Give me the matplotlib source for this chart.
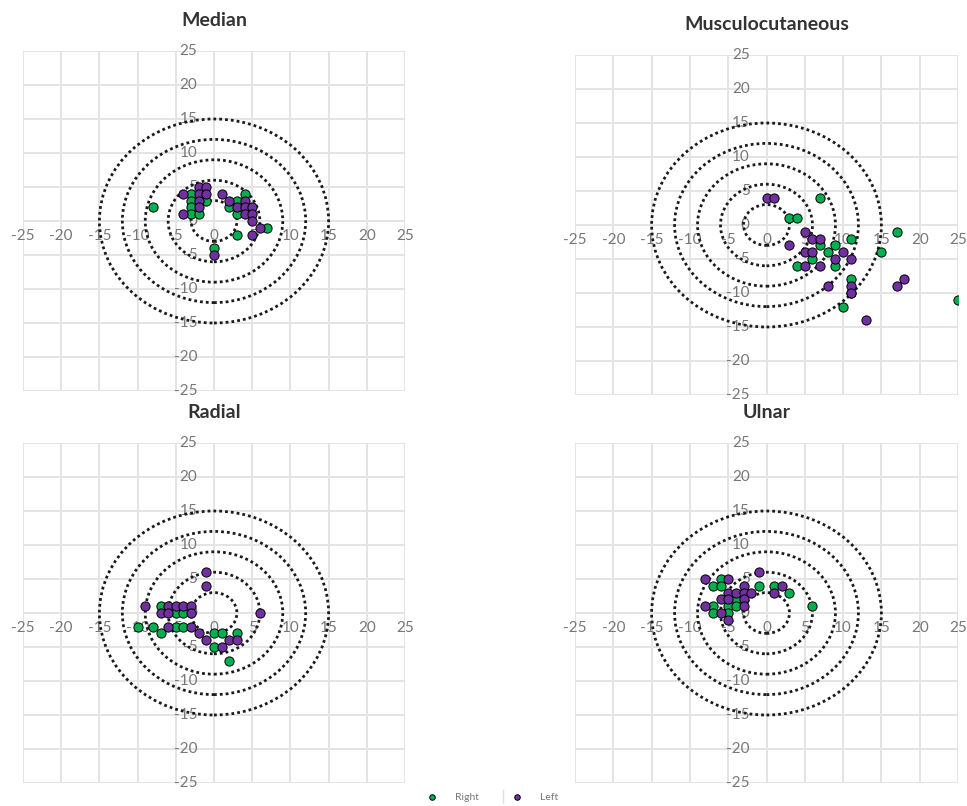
import matplotlib
matplotlib.use("Agg")
import matplotlib.pyplot as plt
from matplotlib.patches import Circle

plt.rcParams['font.family'] = ['Lato', 'DejaVu Sans']

# Ring radii and axis ticks
radii = [3, 6, 9, 12, 15]
ticks = [-25, -20, -15, -10, -5, 0, 5, 10, 15, 20, 25]

# Median
median_right_x = [-8, -3, -3, -1, -3, -3, -2, 4, 3, 2, 3, 3, 7, 0]
median_right_y = [2, 4, 3, 3, 2, 1, 1, 4, 3, 2, 1, -2, -1, -4]
median_left_x = [-2, -1, -4, -2, -1, -2, -2, -4, 1, 2, 4, 3, 4, 5, 4, 5, 5, 6, 5, 0]
median_left_y = [5, 5, 4, 4, 4, 3, 2, 1, 4, 3, 3, 2, 2, 2, 1, 1, 0, -1, -2, -5]

# Musculocutaneous
musc_right_x = [7, 3, 4, 11, 17, 7, 8, 9, 15, 6, 4, 9, 11, 11, 25, 10]
musc_right_y = [4, 1, 1, -2, -1, -3, -4, -3, -4, -5, -6, -6, -8, -10, -11, -12]
musc_left_x = [0, 1, 5, 6, 7, 3, 5, 6, 10, 9, 11, 5, 7, 11, 8, 11, 18, 17, 13]
musc_left_y = [4, 4, -1, -2, -2, -3, -4, -4, -4, -5, -5, -6, -6, -9, -9, -10, -8, -9, -14]

# Radial
radial_right_x = [-7, -5, -4, -10, -8, -5, -4, -7, 0, 1, 3, 0, 2]
radial_right_y = [1, 0, 0, -2, -2, -2, -2, -3, -3, -3, -3, -5, -7]
radial_left_x = [-1, -1, -9, -6, -5, -4, -3, -7, -6, -3, 6, -6, -3, -2, -1, 2, 3, 1]
radial_left_y = [6, 4, 1, 1, 1, 1, 1, 0, 0, 0, 0, -2, -2, -3, -4, -4, -4, -5]

# Ulnar
ulnar_right_x = [-6, -7, -6, -1, 1, 3, -4, -7, -5, -4, 6, -7, -5]
ulnar_right_y = [5, 4, 4, 4, 4, 3, 2, 1, 1, 1, 1, 0, 0]
ulnar_left_x = [-1, -8, -5, -3, 2, 1, -5, -4, -3, -2, -6, -5, -3, -8, -3, -6, -5]
ulnar_left_y = [6, 5, 5, 4, 4, 3, 3, 3, 3, 3, 2, 2, 2, 1, 1, 0, -1]

panels = [
    ("Median", median_right_x, median_right_y, median_left_x, median_left_y),
    ("Musculocutaneous", musc_right_x, musc_right_y, musc_left_x, musc_left_y),
    ("Radial", radial_right_x, radial_right_y, radial_left_x, radial_left_y),
    ("Ulnar", ulnar_right_x, ulnar_right_y, ulnar_left_x, ulnar_left_y),
]

W, H = 967, 806
# axes boxes in pixels: left, top, right, bottom
boxes = [(23, 51, 405, 391), (575, 55, 958, 395), (23, 443, 405, 783), (575, 443, 958, 783)]

green = "#00b050"
purple = "#7030a0"
label_color = "#777777"
grid_color = "#e4e4e4"

fig = plt.figure(figsize=(W / 100, H / 100), dpi=100)

handles = None
for (title, rx, ry, lx, ly), (l, t, r, b) in zip(panels, boxes):
    ax = fig.add_axes([l / W, 1 - b / H, (r - l) / W, (b - t) / H])
    ax.set_xlim(-25, 25)
    ax.set_ylim(-25, 25)
    for s in ax.spines.values():
        s.set_visible(False)
    ax.set_xticks([])
    ax.set_yticks([])
    for v in ticks:
        ax.axvline(v, color=grid_color, lw=1.4, zorder=0)
        ax.axhline(v, color=grid_color, lw=1.4, zorder=0)

    # tick labels sit next to the axes through the origin
    for v in ticks:
        ax.annotate(str(v), (v, 0), xytext=(0, -11), textcoords="offset points",
                    ha="center", va="center", fontsize=11, color=label_color, zorder=1)
        ax.annotate(str(v), (0, v), xytext=(-12, 0), textcoords="offset points",
                    ha="right", va="center", fontsize=11, color=label_color, zorder=1)

    for rad in radii:
        ax.add_patch(Circle((0, 0), rad, fill=False, edgecolor="#1a1a1a", lw=2.0,
                            linestyle=(0, (1, 1.1)), zorder=2))

    h1 = ax.scatter(rx, ry, s=44, color=green, edgecolor="black", linewidth=0.7,
                    zorder=3, label="Right")
    h2 = ax.scatter(lx, ly, s=44, color=purple, edgecolor="black", linewidth=0.7,
                    zorder=4, label="Left")
    if handles is None:
        handles = [h1, h2]

    fig.text(((l + r) / 2) / W, 1 - (t - 30) / H, title, ha="center", va="center",
             fontsize=14, fontweight="bold", color="#333333")

leg = fig.legend(handles=handles, labels=["Right", "Left"], loc="center",
                 bbox_to_anchor=(490 / W, 1 - 797 / H), ncol=2, frameon=False,
                 fontsize=7.5, labelcolor=label_color, markerscale=0.6,
                 handletextpad=1.2, columnspacing=2.6)

# thin separator between the two legend entries
fig.add_artist(plt.Line2D([503 / W, 503 / W], [1 - 803 / H, 1 - 790 / H],
                          color="#e0e0e0", lw=1.0))

fig.savefig("out.png", dpi=100)
